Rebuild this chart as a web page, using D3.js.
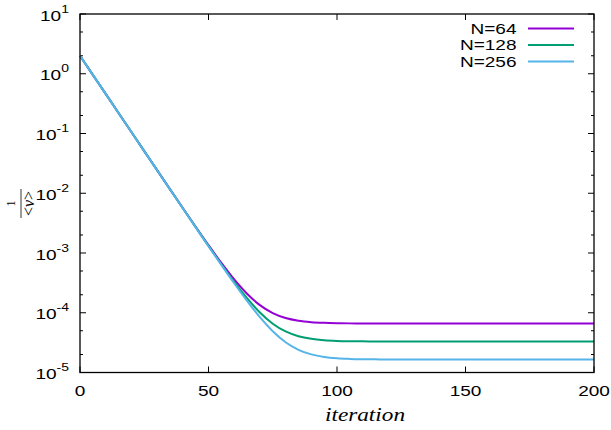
<!DOCTYPE html>
<html>
<head>
<meta charset="utf-8">
<script src="https://cdn.jsdelivr.net/npm/d3@7"></script>
<style>
html,body{margin:0;padding:0;background:#fff;}
svg{display:block;}
</style>
</head>
<body>
<svg id="chart" width="611" height="430"></svg>
<script>
// ---- data ----
const iterations = [0,5,10,15,20,25,30,35,40,45,50,55,60,65,70,75,80,85,90,95,100,105,110,115,120,125,130,135,140,145,150,155,160,165,170,175,180,185,190,195,200];
const seriesNames = ["N=64","N=128","N=256"];
const seriesColors = ["#9400d3","#009e73","#56b4e9"];
const valuesN64 = [2.0,0.959,0.460,0.2206,0.1058,0.0508,0.02438,0.01173,0.00566,0.00275,0.001351,0.000682,0.000361,0.000208,0.000134,9.86e-5,8.16e-5,7.35e-5,6.96e-5,6.77e-5,6.68e-5,6.64e-5,6.62e-5,6.61e-5,6.6e-5,6.6e-5,6.6e-5,6.6e-5,6.6e-5,6.6e-5,6.6e-5,6.6e-5,6.6e-5,6.6e-5,6.6e-5,6.6e-5,6.6e-5,6.6e-5,6.6e-5,6.6e-5,6.6e-5];
const valuesN128 = [2.0,0.959,0.460,0.2205,0.1057,0.0507,0.02434,0.01169,0.00562,0.00271,0.001318,0.000649,0.000328,0.000175,0.000101,6.56e-5,4.86e-5,4.05e-5,3.66e-5,3.47e-5,3.38e-5,3.34e-5,3.32e-5,3.31e-5,3.3e-5,3.3e-5,3.3e-5,3.3e-5,3.3e-5,3.3e-5,3.3e-5,3.3e-5,3.3e-5,3.3e-5,3.3e-5,3.3e-5,3.3e-5,3.3e-5,3.3e-5,3.3e-5,3.3e-5];
const valuesN256 = [2.0,0.959,0.460,0.2205,0.1057,0.0507,0.02432,0.01168,0.00561,0.0027,0.0013,0.000633,0.000312,0.000158,8.44e-5,4.91e-5,3.21e-5,2.4e-5,2.01e-5,1.82e-5,1.73e-5,1.69e-5,1.67e-5,1.66e-5,1.65e-5,1.65e-5,1.65e-5,1.65e-5,1.65e-5,1.65e-5,1.65e-5,1.65e-5,1.65e-5,1.65e-5,1.65e-5,1.65e-5,1.65e-5,1.65e-5,1.65e-5,1.65e-5,1.65e-5];
const xTicks = [0,50,100,150,200];
const yExponents = [-5,-4,-3,-2,-1,0,1];
const xLabel = "iteration";

(function(){
// ---- layout ----
const svg = d3.select("#chart");
const pLeft = 80, pRight = 594, pTop = 14, pBottom = 372.5;
const x = d3.scaleLinear().domain([0,200]).range([pLeft,pRight]);
const y = d3.scaleLog().domain([1e-5,10]).range([pBottom,pTop]);
const font = "'Liberation Sans', Arial, Helvetica, sans-serif";
const stretch = 1.27;

function sansText(px, py, anchor, size) {
  return svg.append("g").attr("transform", `translate(${px},${py}) scale(${stretch},1)`)
    .append("text").attr("x",0).attr("y",0).attr("text-anchor",anchor)
    .attr("font-family",font).attr("font-size",size).attr("fill","#000");
}

// ticks
const tickG = svg.append("g").attr("stroke","#000").attr("stroke-width",1);
const majorLen = 6, minorLen = 3;
xTicks.forEach(t => {
  tickG.append("line").attr("x1",x(t)).attr("x2",x(t)).attr("y1",pBottom).attr("y2",pBottom-majorLen);
  tickG.append("line").attr("x1",x(t)).attr("x2",x(t)).attr("y1",pTop).attr("y2",pTop+majorLen);
});
const yMinor = [];
yExponents.forEach(e => {
  [2,5].forEach(m => { const v = m*Math.pow(10,e); if (v < 10) yMinor.push(v); });
});
yExponents.forEach(e => {
  const v = Math.pow(10,e);
  tickG.append("line").attr("x1",pLeft).attr("x2",pLeft+majorLen).attr("y1",y(v)).attr("y2",y(v));
  tickG.append("line").attr("x1",pRight).attr("x2",pRight-majorLen).attr("y1",y(v)).attr("y2",y(v));
});
yMinor.forEach(v => {
  tickG.append("line").attr("x1",pLeft).attr("x2",pLeft+minorLen).attr("y1",y(v)).attr("y2",y(v));
  tickG.append("line").attr("x1",pRight).attr("x2",pRight-minorLen).attr("y1",y(v)).attr("y2",y(v));
});

// tick labels
xTicks.forEach(t => {
  sansText(x(t), pBottom+23.5, "middle", 15).text(t);
});
yExponents.forEach(e => {
  const t = sansText(69, y(Math.pow(10,e))+6.5, "end", 15);
  t.append("tspan").text("10");
  t.append("tspan").attr("dy",-8).attr("font-size",11).text(e < 0 ? "-" + (-e) : String(e));
});

// data lines
const allValues = [valuesN64, valuesN128, valuesN256];
const line = d3.line().x(d => x(d[0])).y(d => y(d[1])).curve(d3.curveMonotoneX);
allValues.forEach((vals,i) => {
  svg.append("path")
    .datum(iterations.map((it,k) => [it, vals[k]]))
    .attr("fill","none").attr("stroke",seriesColors[i]).attr("stroke-width",2)
    .attr("d",line);
});

// frame
svg.append("rect").attr("x",pLeft).attr("y",pTop).attr("width",pRight-pLeft).attr("height",pBottom-pTop)
  .attr("fill","none").attr("stroke","#000").attr("stroke-width",1.3);

// legend
const legendY = [28.5, 45, 61.5];
seriesNames.forEach((name,i) => {
  sansText(516.5, legendY[i]+5, "end", 15).text(name);
  svg.append("line").attr("x1",528).attr("x2",574).attr("y1",legendY[i]).attr("y2",legendY[i])
    .attr("stroke",seriesColors[i]).attr("stroke-width",2);
});

// x axis label
svg.append("text").attr("x",365).attr("y",420.5).attr("text-anchor","middle")
  .attr("font-family","'Liberation Serif',serif").attr("font-style","italic")
  .attr("font-size",18).attr("textLength",80).attr("lengthAdjust","spacingAndGlyphs").text(xLabel);

// y axis label: fraction 1 / <v>
const yl = svg.append("g").attr("transform","translate(22,203.5) rotate(-90)");
yl.append("text").attr("x",0).attr("y",-7).attr("text-anchor","middle")
  .attr("font-family","'Liberation Serif',serif").attr("font-size",12).text("1");
yl.append("line").attr("x1",-14.5).attr("x2",14.5).attr("y1",-1).attr("y2",-1)
  .attr("stroke","#000").attr("stroke-width",0.8);
const den = yl.append("text").attr("x",0).attr("y",11.5).attr("text-anchor","middle")
  .attr("font-family","'Liberation Serif',serif").attr("font-size",16);
den.append("tspan").text("<");
den.append("tspan").attr("font-style","italic").text("v");
den.append("tspan").text(">");
})();
</script>
</body>
</html>
